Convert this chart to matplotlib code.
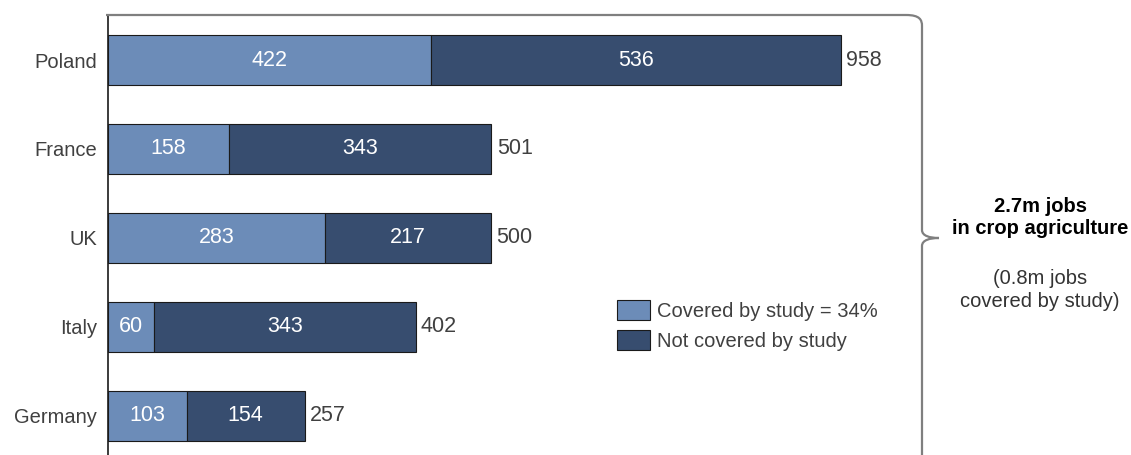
import matplotlib
matplotlib.use("Agg")
import matplotlib.pyplot as plt
from matplotlib.path import Path
from matplotlib.patches import PathPatch, Patch
from matplotlib.transforms import IdentityTransform

countries = ["Poland", "France", "UK", "Italy", "Germany"]
covered = [422, 158, 283, 60, 103]
not_covered = [536, 343, 217, 343, 154]
totals = [958, 501, 500, 402, 257]

legend_labels = ["Covered by study = 34%", "Not covered by study"]
side_title = "2.7m jobs\nin crop agriculture"
side_note = "(0.8m jobs\ncovered by study)"

c_light = "#6c8cb8"
c_dark = "#374d6f"
c_text = "#404040"

plt.rcParams["font.family"] = ["Liberation Sans", "DejaVu Sans"]

W, H = 1131, 455
fig = plt.figure(figsize=(W / 100, H / 100), dpi=100)

# axes in pixel geometry
ax_l, ax_r, ax_t, ax_b = 108, 915, 15, 455
ax = fig.add_axes([ax_l / W, 1 - ax_b / H, (ax_r - ax_l) / W, (ax_b - ax_t) / H])

px_per_unit = (841 - 108) / 958
ax.set_xlim(0, (ax_r - ax_l) / px_per_unit)
ax.set_ylim(4.44, -0.506)

ypos = list(range(len(countries)))
h = 0.565
ax.barh(ypos, covered, height=h, color=c_light, edgecolor="#1a1a1a", linewidth=0.8)
ax.barh(ypos, not_covered, left=covered, height=h, color=c_dark, edgecolor="#1a1a1a", linewidth=0.8)

fs = 14.5
fsn = 15.5
for y, c, n, t in zip(ypos, covered, not_covered, totals):
    ax.text(c / 2, y, str(c), ha="center", va="center", color="white", fontsize=fsn)
    ax.text(c + n / 2, y, str(n), ha="center", va="center", color="white", fontsize=fsn)
    ax.text(t + 7, y, str(t), ha="left", va="center", color=c_text, fontsize=fsn)

ax.set_yticks(ypos)
ax.set_yticklabels(countries, fontsize=fs, color=c_text)
ax.tick_params(axis="y", length=0, pad=8)
ax.set_xticks([])
for s in ["right", "bottom", "top"]:
    ax.spines[s].set_visible(False)
ax.spines["left"].set_color("#1a1a1a")
ax.spines["left"].set_linewidth(1.2)

# brace (pixel coordinates, y from top)
def P(x, y):
    return (x, H - y)

verts = [
    P(106, 15), P(906, 15),
    P(920, 15), P(922, 20), P(922, 26),
    P(922, 230),
    P(922, 236), P(930, 238), P(939, 238),
    P(930, 238), P(922, 240), P(922, 246),
    P(922, 456),
]
codes = [Path.MOVETO, Path.LINETO,
         Path.CURVE4, Path.CURVE4, Path.CURVE4,
         Path.LINETO,
         Path.CURVE4, Path.CURVE4, Path.CURVE4,
         Path.CURVE4, Path.CURVE4, Path.CURVE4,
         Path.LINETO]
brace = PathPatch(Path(verts, codes), facecolor="none", edgecolor="#7f7f7f", linewidth=1.6)
brace.set_transform(IdentityTransform())
fig.add_artist(brace)

fig.text(1040 / W, 1 - 217 / H, side_title, ha="center", va="center", fontsize=14.5,
         fontweight="bold", color="black", linespacing=1.2)
fig.text(1040 / W, 1 - 290 / H, side_note, ha="center", va="center", fontsize=14.5,
         color="#333333", linespacing=1.25)

handles = [Patch(facecolor=c_light, edgecolor="#1a1a1a", linewidth=0.8),
           Patch(facecolor=c_dark, edgecolor="#1a1a1a", linewidth=0.8)]
leg = fig.legend(handles, legend_labels, loc="upper left",
                 bbox_to_anchor=(617 / W, 1 - 300 / H), frameon=False,
                 fontsize=14.5, handlelength=1.65, handleheight=1.15,
                 handletextpad=0.35, labelspacing=0.45, borderaxespad=0, borderpad=0)
for t in leg.get_texts():
    t.set_color(c_text)

fig.savefig("out.png", dpi=100)
